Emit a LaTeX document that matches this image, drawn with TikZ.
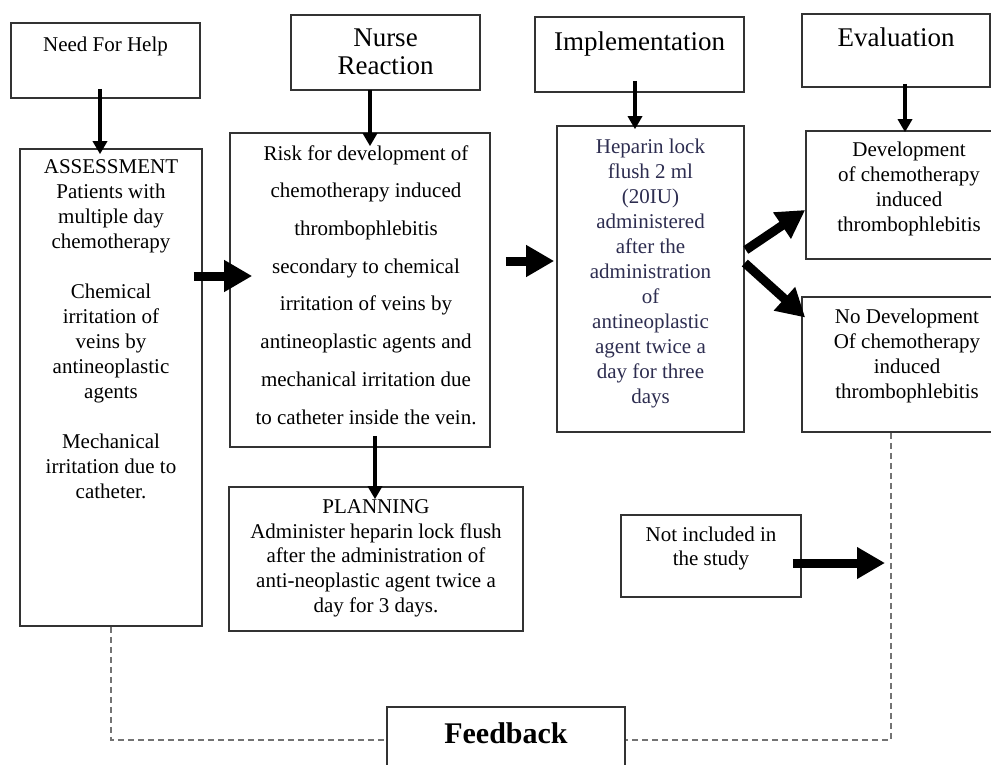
\documentclass[tikz,border=0pt]{standalone}
\usepackage{fontspec}
\setmainfont{Liberation Serif}
\usetikzlibrary{arrows.meta, positioning, calc}

\definecolor{hepink}{RGB}{45,45,80}

\tikzset{
  box/.style={draw=black!80, line width=1.6pt, inner sep=0pt},
  body/.style={align=center, inner sep=0pt, font=\fontsize{21}{25}\selectfont},
  head/.style={align=center, inner sep=0pt, font=\fontsize{27}{28}\selectfont},
  flow/.style={line width=3.5pt, -{Triangle[length=13pt,width=14pt]}},
  bigflow/.style={line width=9pt, -{Triangle[length=28pt,width=30pt]}},
  fbline/.style={draw=black!55, line width=1.5pt, dash pattern=on 6pt off 4pt},
}

\begin{document}
\begin{tikzpicture}[x=1pt, y=-1pt]
    \useasboundingbox (0,0) rectangle (991,765);

    % heading boxes
    \node[box, minimum width=189pt, minimum height=75pt] (need) at (105.5,60.5) {};
    \node[body, below=15pt of need.north] (needtxt) {Need For Help};
    \node[box, minimum width=189pt, minimum height=75pt] (nurse) at (385.5,52.5) {};
    \node[head, below=14pt of nurse.north] (nursetxt) {Nurse\\Reaction};
    \node[box, minimum width=209pt, minimum height=75pt] (impl) at (639.5,54.5) {};
    \node[head, below=15pt of impl.north] (impltxt) {Implementation};
    \node[box, minimum width=188pt, minimum height=73pt] (eval) at (896,50.5) {};
    \node[head, below=14pt of eval.north] (evaltxt) {Evaluation};

    % main boxes
    \node[box, minimum width=182pt, minimum height=477pt] (assess) at (111,387.5) {};
    \node[body, below=11pt of assess.north] (assesstxt) {ASSESSMENT\\Patients with\\multiple day\\chemotherapy\\[25pt]
        Chemical\\irritation of\\veins by\\antineoplastic\\agents\\[25pt]
        Mechanical\\irritation due to\\catheter.};
    \node[box, minimum width=260pt, minimum height=314pt] (risk) at (360,290) {};
    \node[body, font=\fontsize{21}{37.7}\selectfont, below=13pt of risk.north, xshift=6pt] (risktxt)
        {Risk for development of\\chemotherapy induced\\thrombophlebitis\\secondary to chemical\\irritation of veins by\\
         antineoplastic agents and\\mechanical irritation due\\to catheter inside the vein.};
    \node[box, minimum width=187pt, minimum height=306pt] (hep) at (650.5,279) {};
    \node[body, text=hepink, below=14pt of hep.north] (heptxt) {Heparin lock\\flush 2 ml\\(20IU)\\administered\\after the\\
        administration\\of\\antineoplastic\\agent twice a\\day for three\\days};
    \node[box, minimum width=206pt, minimum height=128pt] (dev) at (909,195) {};
    \node[body, font=\fontsize{21}{24.7}\selectfont, below=12pt of dev.north] (devtxt)
        {Development\\of chemotherapy\\induced\\thrombophlebitis};
    \node[box, minimum width=210pt, minimum height=135pt] (nodev) at (907,364.5) {};
    \node[body, below=13pt of nodev.north] (nodevtxt) {No Development\\Of chemotherapy\\induced\\thrombophlebitis};
    \node[box, minimum width=294pt, minimum height=144pt] (plan) at (376,559) {};
    \node[body, font=\fontsize{21}{24.7}\selectfont, below=13pt of plan.north] (plantxt)
        {PLANNING\\Administer heparin lock flush\\after the administration of\\anti-neoplastic agent twice a\\day for 3 days.};
    \node[box, minimum width=180pt, minimum height=82pt] (notinc) at (711,556) {};
    \node[body, font=\fontsize{21}{24}\selectfont, below=13pt of notinc.north] (notinctxt) {Not included in\\the study};
    \node[box, minimum width=238pt, minimum height=66pt] (feed) at (506,740) {};
    \node[body, font=\fontsize{30}{30}\selectfont\bfseries, below=16pt of feed.north] (feedtxt) {Feedback};

    % thin arrows
    \draw[flow] ($(need.south)+(-5.5,-10)$) -- ($(assess.north)+(-11,6)$);
    \draw[flow] ($(nurse.south)+(-15.5,-1)$) -- ($(risk.north)+(10,14)$);
    \draw[flow] ($(impl.south)+(-4.5,-12)$) -- ($(hep.north)+(-15.5,4)$);
    \draw[flow] ($(eval.south)+(9,-4)$) -- ($(dev.north)+(-4,2)$);
    \draw[flow] ($(risk.south)+(15,-12)$) -- ($(plan.north)+(-1,13)$);

    % thick arrows
    \draw[bigflow] ($(assess.east)+(-9,-111.5)$) -- ($(risk.west)+(23,-14)$);
    \draw[bigflow] ($(risk.east)+(15,-29)$) -- ($(hep.west)+(-2,-18)$);
    \draw[bigflow] ($(hep.east)+(1,-29)$) -- ($(dev.west)+(0,15)$);
    \draw[bigflow] ($(hep.east)+(0,-16)$) -- ($(nodev.west)+(4,-47)$);

    % feedback loop
    \coordinate (fbr) at ($(nodev.south)+(-16,0)$);
    \draw[fbline] (assess.south) |- (feed.west);
    \draw[fbline] (fbr) |- (feed.east);
    \draw[bigflow] ($(notinc.east)+(-9,7)$) -- ($(fbr |- notinc.east)+(-6,7)$);
\end{tikzpicture}
\end{document}
